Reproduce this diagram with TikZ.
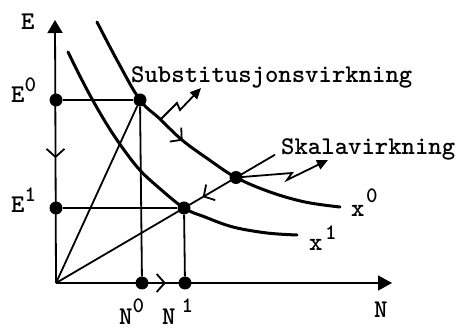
\documentclass[tikz,border=0pt]{standalone}
\usetikzlibrary{arrows.meta,decorations.markings}
\newcommand\supt[4]{#1\kern#4\raisebox{#3}{\fontsize{22}{22}\selectfont #2}}
\begin{document}
\begin{tikzpicture}[x=1pt,y=-1pt,
  lab/.style={inner sep=0pt, anchor=base west, font=\ttfamily\fontseries{b}\fontsize{25.5}{25.5}\selectfont},
  dot/.style={circle, fill=black, inner sep=0pt, minimum size=13pt},
  ln/.style={line width=1.8pt},
  crv/.style={line width=3pt, line cap=round},
  barbfwd/.style={postaction={decorate,decoration={markings,
     mark=at position #1 with {\arrow{Straight Barb[length=8pt,width=18pt,line width=1.8pt]}}}}},
  barbrev/.style={postaction={decorate,decoration={markings,
     mark=at position #1 with {\arrowreversed{Straight Barb[length=8pt,width=18pt,line width=1.8pt]}}}}},
  zig/.style={line width=1.8pt, line join=miter, -{Triangle[length=11pt,width=10pt]}}]
\useasboundingbox (0,0) rectangle (461,331);
\fill[white] (0,0) rectangle (461,331);
% points
\coordinate (O) at (56,283);
\coordinate (ytip) at (55,20);
\coordinate (xtip) at (392,283);
\coordinate (R) at (275,154.7);
\node[dot] (e0) at (56,100) {};
\node[dot] (e1) at (56,208) {};
\node[dot] (A) at (140,100) {};
\node[dot] (B) at (184,208) {};
\node[dot] (C) at (236,177.5) {};
\node[dot] (n0) at (142,283) {};
\node[dot] (n1) at (185,283) {};
% axes
\draw[ln, -{Triangle[length=13pt,width=15pt]}, barbrev=0.475] (O) -- (ytip);
\draw[ln, -{Triangle[length=14pt,width=15pt]}, barbfwd=0.327] (O) -- (xtip);
% guide lines
\draw[ln] (e0) -- (A);
\draw[ln] (A) -- (n0);
\draw[ln] (e1) -- (B);
\draw[ln] (B) -- (n1);
\draw[ln] (O) -- (A);
\draw[ln, barbrev=0.67] (O) -- (R);
% curves
\draw[crv, barbfwd=0.46] plot[smooth, tension=0.6] coordinates {(97,22) (118,62) (140,100) (160,119) (182,140) (208,159) (236,177.5) (270,192) (305,202) (340,207)};
\draw[crv] plot[smooth, tension=0.6] coordinates {(68,52) (84,84) (100,113) (117,140) (138,168) (158,187) (184,208) (205,217) (233,227) (267,233) (297,235)};
% zigzag arrows
\coordinate (z1a) at (161,119);
\coordinate (z1b) at (177,103);
\coordinate (z1c) at (180,110);
\coordinate (z1d) at (201,88);
\draw[zig] (z1a) -- (z1b) -- (z1c) -- (z1d);
\coordinate (z2b) at (292,173);
\coordinate (z2c) at (287,180);
\coordinate (z2d) at (328,160);
\draw[zig] (C.center) -- (z2b) -- (z2c) -- (z2d);
% labels
\node[lab] (lE) at (21,30) {E};
\node[lab] (lE0) at (11,103) {\supt{E}{0}{11pt}{0pt}};
\node[lab] (lE1) at (11,213) {\supt{E}{1}{11pt}{0pt}};
\node[lab] (lN0) at (119,325) {\supt{N}{0}{12pt}{0pt}};
\node[lab] (lN1) at (162,325) {\supt{N}{1}{12pt}{6pt}};
\node[lab] (lN) at (374,318) {N};
\node[lab] (lx0) at (351,217) {\supt{x}{0}{14pt}{1.5pt}};
\node[lab] (lx1) at (309,251) {\supt{x}{1}{11pt}{2.5pt}};
\node[lab] (lsub) at (131,83) {Substitusjonsvirkning};
\node[lab] (lska) at (281,155) {Skalavirkning};
\end{tikzpicture}
\end{document}
